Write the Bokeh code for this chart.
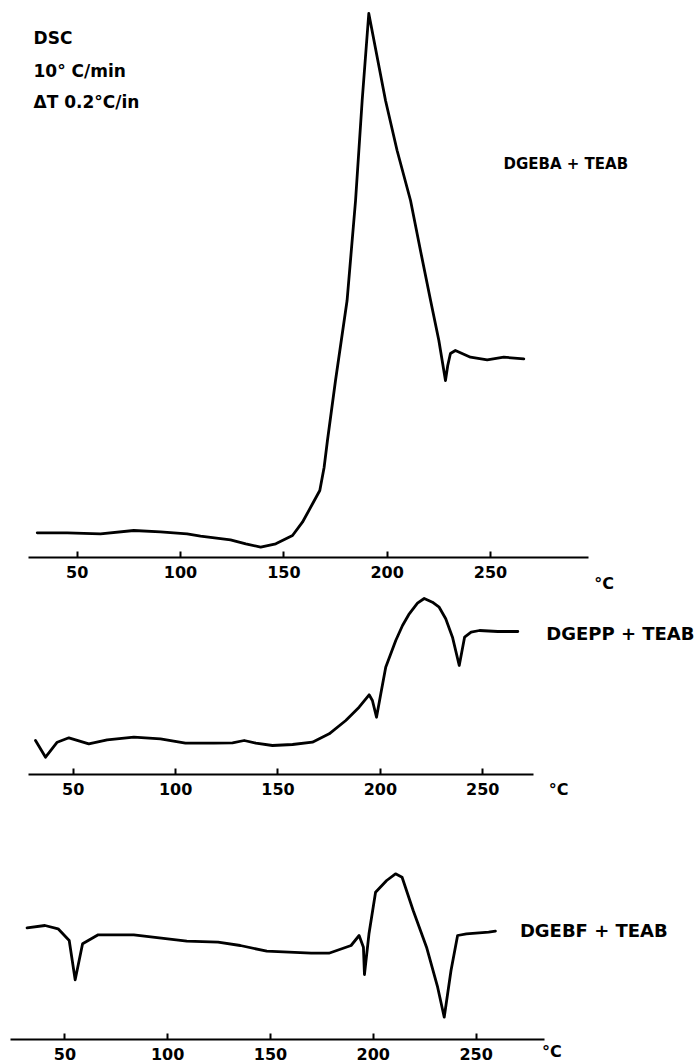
from bokeh.plotting import figure
from bokeh.models import LinearAxis, FixedTicker, Range1d
from bokeh.layouts import column
from bokeh.embed import file_html
from bokeh.resources import INLINE
from bokeh.core.properties import value

# ---------------- data (temperature in degC, DSC signal in arbitrary units) -------------
tick_values = [50, 100, 150, 200, 250]

dgeba_T = [30.7, 45.2, 61.3, 77.4, 90.3, 103.2, 109.7, 124.2, 131.6, 138.8, 146.1, 154.2,
           159.0, 163.9, 167.4, 169.5, 171.1, 175.0, 180.6, 184.7, 187.9, 191.1, 199.2,
           204.8, 211.3, 216.1, 221.0, 225.0, 228.2, 229.3, 230.6, 233.0, 240.3, 248.4,
           256.4, 266.1]
dgeba_q = [2.47, 2.47, 2.37, 2.70, 2.57, 2.37, 2.13, 1.77, 1.37, 1.03, 1.37, 2.20,
           3.53, 5.37, 6.70, 9.03, 11.70, 17.70, 25.70, 35.70, 45.70, 54.40, 45.70,
           40.70, 35.70, 30.70, 25.70, 21.70, 17.70, 19.20, 20.40, 20.70, 20.03, 19.77,
           20.03, 19.87]

dgepp_T = [31.6, 36.5, 42.2, 47.9, 57.6, 66.6, 79.6, 92.6, 104.8, 118.7, 127.8, 133.5,
           139.2, 147.3, 157.1, 166.8, 175.0, 183.1, 189.6, 194.5, 196.1, 198.1, 200.2,
           202.6, 207.5, 210.8, 214.1, 218.1, 221.4, 225.4, 228.7, 231.9, 235.2, 238.5,
           241.1, 244.3, 248.4, 257.3, 267.1]
dgepp_q = [3.40, 1.73, 3.23, 3.67, 3.07, 3.47, 3.73, 3.57, 3.13, 3.13, 3.17, 3.40,
           3.13, 2.90, 3.00, 3.23, 4.07, 5.40, 6.73, 7.97, 7.40, 5.73, 8.07,
           10.73, 13.40, 14.90, 16.07, 17.13, 17.60, 17.23, 16.73, 15.57, 13.73, 10.90,
           13.73, 14.23, 14.40, 14.30, 14.30]

dgebf_T = [31.6, 40.3, 46.7, 52.1, 55.0, 58.6, 66.2, 83.5, 109.3, 124.5, 135.3, 148.2,
           169.8, 178.4, 189.2, 193.1, 195.2, 195.7, 197.9, 201.1, 206.5, 210.8, 214.0,
           219.4, 225.9, 231.3, 234.5, 237.8, 241.0, 245.3, 256.1, 259.4]
dgebf_q = [11.17, 11.40, 11.07, 9.90, 5.97, 9.57, 10.47, 10.47, 9.83, 9.73, 9.40, 8.83,
           8.63, 8.63, 9.40, 10.40, 9.23, 6.50, 10.57, 14.73, 15.90, 16.57, 16.23,
           12.90, 9.23, 5.23, 2.23, 6.90, 10.40, 10.57, 10.73, 10.83]

labels = ["DGEBA + TEAB", "DGEPP + TEAB", "DGEBF + TEAB"]
header = ["DSC", "10° C/min", "ΔT  0.2°C/in"]

FONT = value("DejaVu Sans")
W = 696


def panel(height, xr, yr, bounds, T, q, label, lab_xy, unit_xy, lab_size):
    p = figure(width=W, height=height, x_range=Range1d(*xr), y_range=Range1d(*yr),
               output_backend="svg", toolbar_location=None,
               x_axis_location=None, y_axis_location=None,
               min_border_left=0, min_border_right=0, min_border_top=0, min_border_bottom=0,
               outline_line_color=None)
    p.grid.visible = False
    ax = LinearAxis(fixed_location=0, bounds=bounds, ticker=FixedTicker(ticks=tick_values))
    ax.axis_line_width = 2
    ax.axis_line_color = "black"
    ax.major_tick_in = 6
    ax.major_tick_out = 0
    ax.major_tick_line_width = 2
    ax.minor_tick_line_color = None
    ax.major_label_standoff = 8
    ax.major_label_text_font = "DejaVu Sans"
    ax.major_label_text_font_style = "bold"
    ax.major_label_text_font_size = "16px"
    ax.major_label_text_color = "black"
    p.add_layout(ax, "below")
    p.line(T, q, line_width=2.8, line_color="black", line_join="round", line_cap="round")
    p.text(x=[lab_xy[0]], y=[lab_xy[1]], text=[label], text_font=FONT,
           text_font_style="bold", text_font_size=lab_size, text_baseline="middle",
           text_align="left", text_color="black")
    p.text(x=[unit_xy[0]], y=[unit_xy[1]], text=["°C"], text_font=FONT,
           text_font_style="bold", text_font_size="16px", text_baseline="middle",
           text_align="center", text_color="black")
    return p


p1 = panel(592, (12.92, 349.65), (-3.5, 55.7), (26.5, 297.4), dgeba_T, dgeba_q,
           labels[0], (256.3, 39.4), (305.0, -2.6), "15px")
p1.text(x=[28.9, 28.9, 28.9], y=[52.0, 48.7, 45.6], text=header, text_font=FONT,
        text_font_style="bold", text_font_size="17px", text_baseline="middle",
        text_align="left", text_color="black")

p2 = panel(220, (14.50, 354.35), (-3.8, 18.2), (28.3, 274.8), dgepp_T, dgepp_q,
           labels[1], (281.0, 14.07), (287.0, -1.5), "18px")

p3 = panel(251, (18.68, 357.2), (-2.4, 22.7), (23.4, 283.3), dgebf_T, dgebf_q,
           labels[2], (271.3, 10.9), (286.9, -1.2), "18px")

layout = column(p1, p2, p3, spacing=0)
open("out.html", "w").write(file_html(layout, INLINE))
